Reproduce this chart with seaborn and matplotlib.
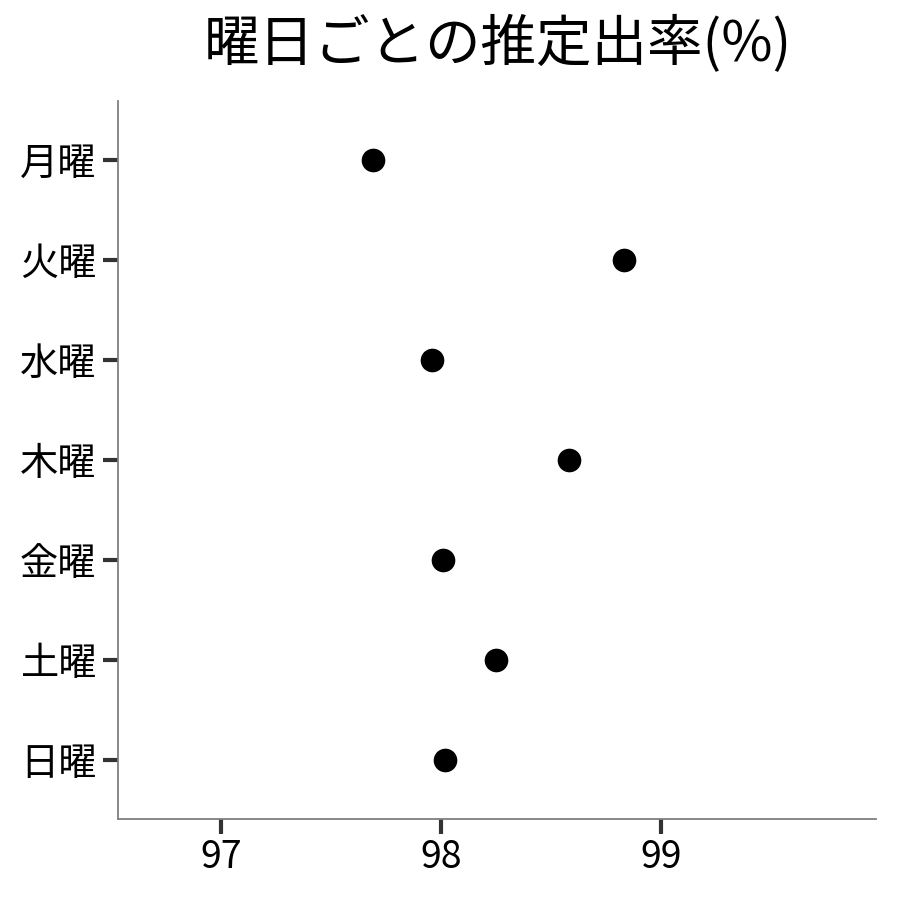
import matplotlib
matplotlib.use("Agg")
import matplotlib.pyplot as plt
import seaborn as sns
import pandas as pd

days = ["月曜", "火曜", "水曜", "木曜", "金曜", "土曜", "日曜"]
rates = [97.69, 98.83, 97.96, 98.58, 98.01, 98.25, 98.02]
x_ticks = [97, 98, 99]
title = "曜日ごとの推定出率(%)"

sns.set_style("white")
plt.rcParams['font.family'] = ['Noto Sans CJK JP', 'DejaVu Sans']

df = pd.DataFrame({"day": days, "rate": rates})

fig = plt.figure(figsize=(9, 9), dpi=100)
ax = fig.add_axes([118/900, 1 - 819/900, (876-118)/900, (819-101)/900])
sns.scatterplot(data=df, x="rate", y="day", ax=ax, s=290, color="black",
                edgecolor="black", linewidth=0, zorder=3)
ax.set_xlim(96.532, 99.977)
ax.set_ylim(6.59, -0.59)
ax.set_xticks(x_ticks)
ax.set_xticklabels([str(t) for t in x_ticks])
ax.set_xlabel("")
ax.set_ylabel("")
for side in ["top", "right"]:
    ax.spines[side].set_visible(False)
for side in ["left", "bottom"]:
    ax.spines[side].set_color("#7f7f7f")
    ax.spines[side].set_linewidth(1.3)
ax.tick_params(axis="both", which="major", bottom=True, left=True, length=11,
               width=3, color="#333333", labelsize=27, labelcolor="black")
ax.tick_params(axis="x", pad=3)
ax.tick_params(axis="y", pad=4.5, labelsize=27.5)
fig.text(498/900, 1 - 45/900, title, ha="center", va="center",
         fontsize=40, color="black")
fig.savefig("out.png", dpi=100)
